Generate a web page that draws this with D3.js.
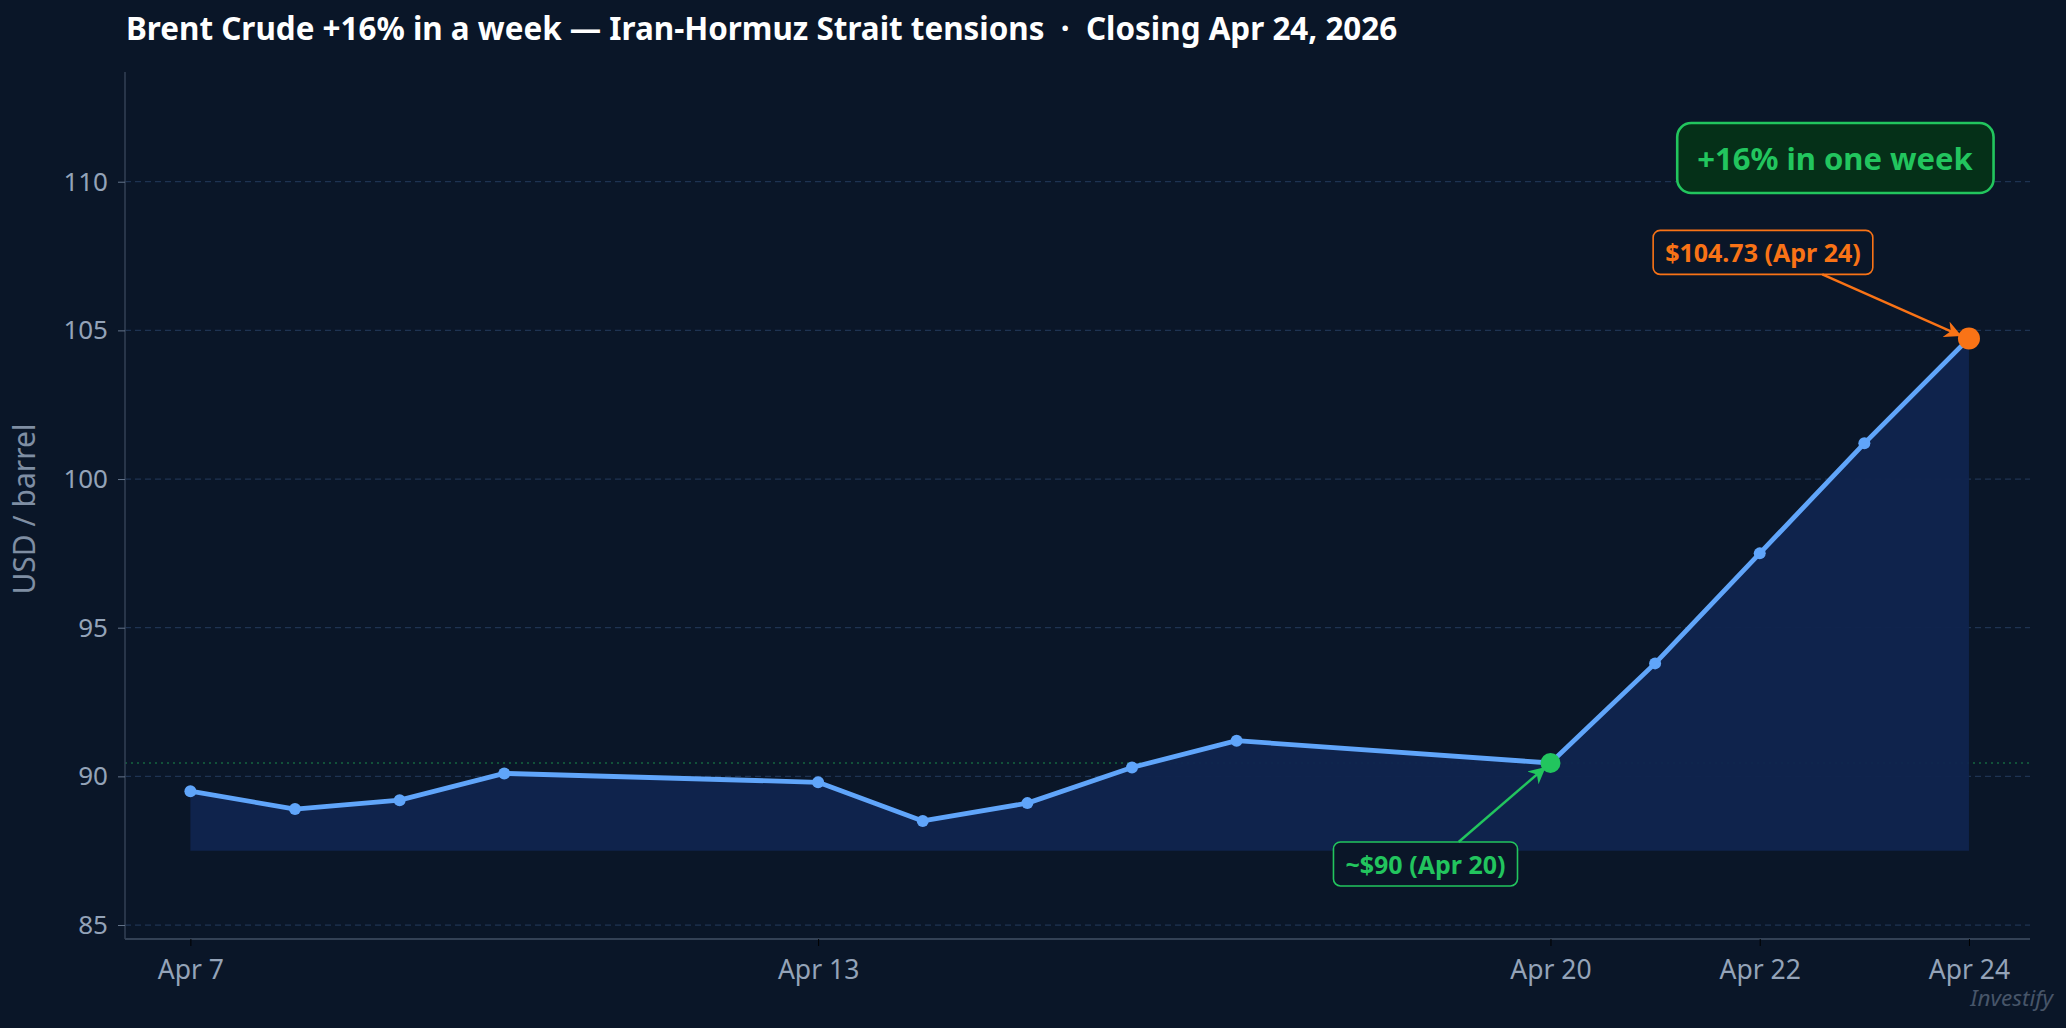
<!DOCTYPE html>
<html>
<head>
<meta charset="utf-8">
<script src="https://cdn.jsdelivr.net/npm/d3@7"></script>
<style>
  html, body { margin: 0; padding: 0; background: #0a1628; }
  svg { display: block; font-family: "Noto Sans", "DejaVu Sans", sans-serif; }
</style>
</head>
<body>
<svg id="chart" width="2066" height="1028"></svg>
<script>
// ---- data ----
const dates = ["2026-04-07","2026-04-08","2026-04-09","2026-04-10","2026-04-13","2026-04-14","2026-04-15","2026-04-16","2026-04-17","2026-04-20","2026-04-21","2026-04-22","2026-04-23","2026-04-24"];
const prices = [89.5, 88.9, 89.2, 90.1, 89.8, 88.5, 89.1, 90.3, 91.2, 90.45, 93.8, 97.5, 101.2, 104.73];
const xTickDates = ["2026-04-07","2026-04-13","2026-04-20","2026-04-22","2026-04-24"];
const xTickLabels = ["Apr 7","Apr 13","Apr 20","Apr 22","Apr 24"];
const yTicks = [85, 90, 95, 100, 105, 110];
const fillBase = 87.5;
const refLevel = 90.45;
const titleText = "Brent Crude +16% in a week \u2014 Iran-Hormuz Strait tensions  \u00b7  Closing Apr 24, 2026";
const yLabel = "USD / barrel";
const startIdx = 9, endIdx = 13;
const startLabel = "~$90 (Apr 20)";
const endLabel = "$104.73 (Apr 24)";
const badgeText = "+16% in one week";
const watermark = "Investify";

// ---- layout ----
const W = 2066, H = 1028;
const m = {left: 125, right: 36, top: 72, bottom: 89};
const parse = d3.utcParse("%Y-%m-%d");
const data = dates.map((d, i) => ({date: parse(d), v: prices[i]}));

const svg = d3.select("#chart");
svg.append("rect").attr("width", W).attr("height", H).attr("fill", "#0a1628");

const x = d3.scaleUtc()
  .domain([d3.utcHour.offset(data[0].date, -14.4), d3.utcHour.offset(data[data.length-1].date, 14.4)])
  .range([m.left, W - m.right]);
const y = d3.scaleLinear().domain([84.53, 113.69]).range([H - m.bottom, m.top]);

// grid
const g = svg.append("g");
g.selectAll("line.grid").data(yTicks).join("line")
  .attr("x1", m.left).attr("x2", W - m.right)
  .attr("y1", d => y(d)).attr("y2", d => y(d))
  .attr("stroke", "#1e3352").attr("stroke-width", 1.2).attr("stroke-dasharray", "6,4");

// reference dotted line
g.append("line")
  .attr("x1", m.left).attr("x2", W - m.right)
  .attr("y1", y(refLevel)).attr("y2", y(refLevel))
  .attr("stroke", "#22c55e").attr("stroke-opacity", 0.45).attr("stroke-width", 1.3).attr("stroke-dasharray", "2,4");

// area
const area = d3.area().x(d => x(d.date)).y0(y(fillBase)).y1(d => y(d.v));
g.append("path").datum(data).attr("d", area).attr("fill", "#10244e").attr("fill-opacity", 0.95);

// line
const line = d3.line().x(d => x(d.date)).y(d => y(d.v));
g.append("path").datum(data).attr("d", line)
  .attr("fill", "none").attr("stroke", "#60a5fa").attr("stroke-width", 4.8).attr("stroke-linejoin", "round");

g.selectAll("circle.pt").data(data).join("circle")
  .attr("cx", d => x(d.date)).attr("cy", d => y(d.v)).attr("r", 6).attr("fill", "#60a5fa");

// axes
const yAxis = d3.axisLeft(y).tickValues(yTicks).tickSize(7).tickPadding(10);
const ya = svg.append("g").attr("transform", `translate(${m.left},0)`).call(yAxis);
ya.select(".domain").attr("d", `M0,${m.top}V${H - m.bottom}`).attr("stroke", "#334155").attr("stroke-width", 1.5);
ya.selectAll(".tick line").attr("stroke", "#64748b");
ya.selectAll(".tick text").attr("fill", "#94a3b8").attr("font-size", 26).attr("font-family", "Noto Sans");

const xAxis = d3.axisBottom(x).tickValues(xTickDates.map(parse))
  .tickFormat((d, i) => xTickLabels[i]).tickSize(7).tickPadding(14);
const xa = svg.append("g").attr("transform", `translate(0,${H - m.bottom})`).call(xAxis);
xa.select(".domain").attr("d", `M${m.left},0H${W - m.right}`).attr("stroke", "#334155").attr("stroke-width", 2);
xa.selectAll(".tick line").attr("stroke", "#000000");
xa.selectAll(".tick text").attr("fill", "#94a3b8").attr("font-size", 26.5).attr("font-family", "Noto Sans");

// y label
svg.append("text").attr("transform", `translate(35,509) rotate(-90)`)
  .attr("text-anchor", "middle").attr("fill", "#7f8ea3").attr("font-size", 30).text(yLabel);

// title
svg.append("text").attr("x", 126).attr("y", 40).attr("fill", "#ffffff")
  .attr("font-size", 31.4).attr("font-weight", 700).attr("xml:space", "preserve").style("white-space", "pre").text(titleText);

// defs for arrows
const defs = svg.append("defs");
function marker(id, color) {
  defs.append("marker").attr("id", id).attr("viewBox", "0 0 10 10").attr("refX", 9).attr("refY", 5)
    .attr("markerWidth", 7).attr("markerHeight", 7).attr("orient", "auto-start-reverse")
    .append("path").attr("d", "M0,0 L10,5 L0,10 L3,5 Z").attr("fill", color);
}
marker("arrG", "#22c55e");
marker("arrO", "#f97316");

// label box helper
function labelBox(cx, cy, text, color, fill, fs, padX, padY, rx, sw) {
  const grp = svg.append("g");
  const t = grp.append("text").attr("x", cx).attr("y", cy).attr("text-anchor", "middle")
    .attr("dominant-baseline", "central").attr("fill", color).attr("font-size", fs).attr("font-weight", 700).text(text);
  const bb = t.node().getBBox();
  grp.insert("rect", "text").attr("x", bb.x - padX).attr("y", bb.y - padY)
    .attr("width", bb.width + 2 * padX).attr("height", bb.height + 2 * padY)
    .attr("rx", rx).attr("fill", fill).attr("stroke", color).attr("stroke-width", sw);
  return {x: bb.x - padX, y: bb.y - padY, w: bb.width + 2 * padX, h: bb.height + 2 * padY};
}

const sPt = data[startIdx], ePt = data[endIdx];

// start annotation
const sb = labelBox(x(sPt.date) - 125, y(sPt.v) + 101, startLabel, "#22c55e", "#0a1628", 25, 12, 5, 7, 1.6);
svg.append("line").attr("x1", sb.x + sb.w * 0.68).attr("y1", sb.y)
  .attr("x2", x(sPt.date) - 6).attr("y2", y(sPt.v) + 5)
  .attr("stroke", "#22c55e").attr("stroke-width", 2.4).attr("marker-end", "url(#arrG)");

// end annotation
const eb = labelBox(x(ePt.date) - 206, y(ePt.v) - 86, endLabel, "#f97316", "#0a1628", 25, 12, 5, 7, 1.6);
svg.append("line").attr("x1", eb.x + eb.w * 0.77).attr("y1", eb.y + eb.h)
  .attr("x2", x(ePt.date) - 9).attr("y2", y(ePt.v) - 3)
  .attr("stroke", "#f97316").attr("stroke-width", 2.4).attr("marker-end", "url(#arrO)");

// highlighted points
svg.append("circle").attr("cx", x(sPt.date)).attr("cy", y(sPt.v)).attr("r", 10).attr("fill", "#22c55e");
svg.append("circle").attr("cx", x(ePt.date)).attr("cy", y(ePt.v)).attr("r", 11).attr("fill", "#f97316");

// badge
labelBox(1835, 158, badgeText, "#22c55e", "#053018", 31, 20, 14, 14, 2.6);

// watermark
svg.append("text").attr("x", 2053).attr("y", 1006).attr("text-anchor", "end")
  .attr("fill", "#475569").attr("font-size", 22.5).attr("font-style", "italic").text(watermark);
</script>
</body>
</html>
